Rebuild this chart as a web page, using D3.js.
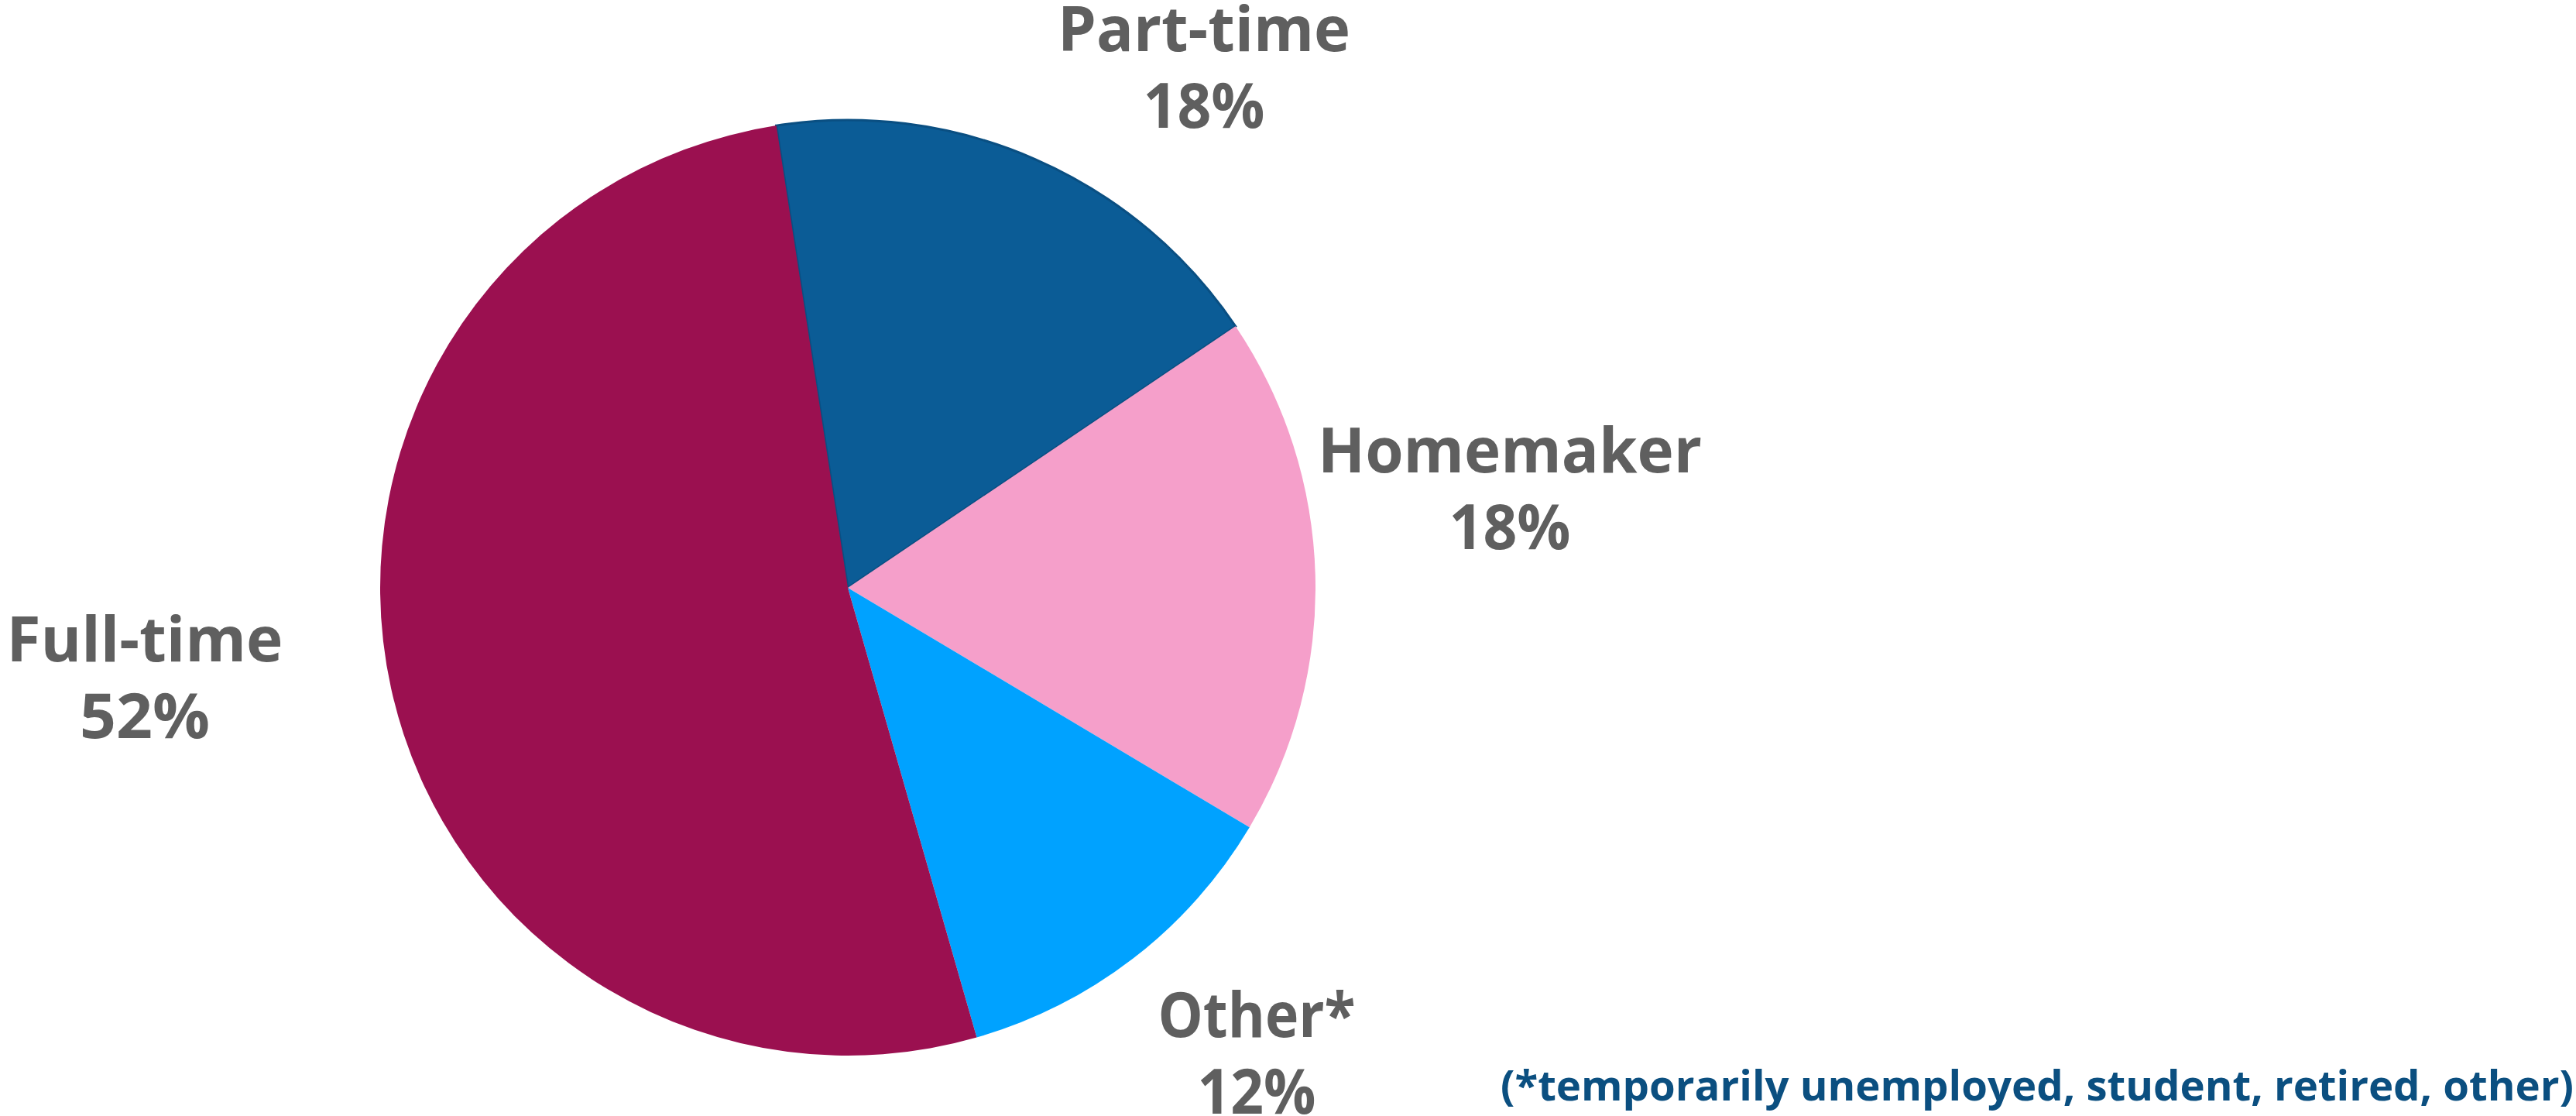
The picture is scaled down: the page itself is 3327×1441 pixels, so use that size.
<!DOCTYPE html>
<html>
<head>
<meta charset="utf-8">
<script src="https://cdn.jsdelivr.net/npm/d3@7"></script>
<style>
  body { margin: 0; background: #fff; }
  svg { display: block; }
</style>
</head>
<body>
<svg id="chart" width="3327" height="1441"></svg>
<script>
// data
const categories = ["Part-time", "Homemaker", "Other*", "Full-time"];
const shares = [18, 18, 12, 52];
const sliceColors = ["#0b5c96", "#f59fca", "#00a2ff", "#9b1050"];
const footnote = "(*temporarily unemployed, student, retired, other)";

// label placement (layout only)
const labelLayout = {
    "Part-time": { x: 1555, y: 66, w1: 378, w2: 157 },
    "Homemaker": { x: 1950, y: 610, w1: 496, w2: 157 },
    "Other*":    { x: 1623, y: 1339, w1: 255, w2: 153 },
    "Full-time": { x: 187,  y: 854, w1: 357, w2: 168 }
};

const width = 3327, height = 1441;
const cx = 1095, cy = 759, radius = 604;
const startAngle = -8.8 * Math.PI / 180;

const svg = d3.select("#chart");

const table = categories.map((c, i) => ({ label: c, value: shares[i], color: sliceColors[i] }));

const pie = d3.pie()
    .sort(null)
    .value(d => d.value)
    .startAngle(startAngle)
    .endAngle(startAngle + 2 * Math.PI);

const arc = d3.arc().innerRadius(0).outerRadius(radius);

const g = svg.append("g").attr("transform", `translate(${cx},${cy})`);

g.selectAll("path.slice")
    .data(pie(table))
    .enter().append("path")
    .attr("class", "slice")
    .attr("d", arc)
    .attr("fill", d => d.data.color)
    .attr("stroke", d => d.data.label === "Part-time" ? "#0a4f82" : "none")
    .attr("stroke-width", 3);

// labels: name on top line, percent below
const lbl = svg.selectAll("g.label")
    .data(table)
    .enter().append("g")
    .attr("class", "label")
    .attr("transform", d => `translate(${labelLayout[d.label].x},${labelLayout[d.label].y})`);

lbl.append("text")
    .attr("text-anchor", "middle")
    .attr("font-family", "'Open Sans', 'Noto Sans', sans-serif")
    .attr("font-weight", 700)
    .attr("font-size", 80)
    .attr("fill", "#5f5f5f")
    .attr("textLength", d => labelLayout[d.label].w1)
    .attr("lengthAdjust", "spacingAndGlyphs")
    .text(d => d.label);

lbl.append("text")
    .attr("text-anchor", "middle")
    .attr("y", 99)
    .attr("font-family", "'Open Sans', 'Noto Sans', sans-serif")
    .attr("font-weight", 700)
    .attr("font-size", 80)
    .attr("fill", "#5f5f5f")
    .attr("textLength", d => labelLayout[d.label].w2)
    .attr("lengthAdjust", "spacingAndGlyphs")
    .text(d => d.value + "%");

// footnote
svg.append("text")
    .attr("x", 1938)
    .attr("y", 1421)
    .attr("font-family", "'Open Sans', 'Noto Sans', sans-serif")
    .attr("font-weight", 700)
    .attr("font-size", 54)
    .attr("fill", "#0b4f80")
    .attr("textLength", 1386)
    .attr("lengthAdjust", "spacingAndGlyphs")
    .text(footnote);
</script>
</body>
</html>
